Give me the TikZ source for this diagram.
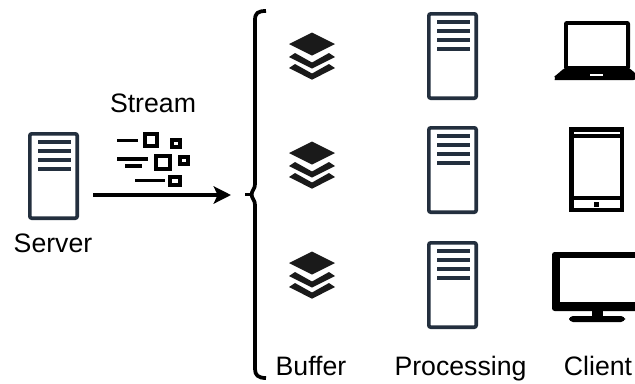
\documentclass[tikz,border=0pt]{standalone}
\usepackage{fontspec}
\setmainfont{Liberation Sans}
\usetikzlibrary{arrows.meta}
\definecolor{navy}{HTML}{232F3E}
\definecolor{stack}{HTML}{1A1A1A}
\tikzset{
  label text/.style={anchor=base,inner sep=0pt,font=\fontsize{20}{24}\selectfont,text=black},
  towerbox/.style={draw=navy,line width=2.7pt,rounded corners=1.5pt,fill=white},
  towerline/.style={draw=navy,line width=2.6pt},
  streamline/.style={draw=black,line width=2.6pt},
  streamsq/.style={draw=black,line width=3pt,fill=white},
  devicefill/.style={fill=black,draw=none},
  holefill/.style={fill=white,draw=none}
}
\newcommand{\towericon}[2]{%
  \begin{scope}[shift={(#1,#2)}]
    \draw[towerbox] (1.8,1.8) rectangle (49.2,86.2);
    \foreach \yy in {10,19,28,37} \draw[towerline] (10,\yy) -- (43,\yy);
  \end{scope}}
\newcommand{\stackicon}[2]{%
  \begin{scope}[shift={(#1,#2)}]
    \fill[stack] (-23,11) -- (0,-0.5) -- (23,11) -- (0,22.5) -- cycle;
    \fill[stack] (-23,24) -- (-17,20) -- (0,29.5) -- (17,20) -- (23,24) -- (0,35.5) -- cycle;
    \fill[stack] (-23,35) -- (-17,31) -- (0,40.5) -- (17,31) -- (23,35) -- (0,46.7) -- cycle;
  \end{scope}}
\begin{document}
\begin{tikzpicture}[x=0.75pt,y=-0.75pt]
\useasboundingbox (0,0) rectangle (635,383);
\clip (0,0) rectangle (635,383);

% server
\towericon{28}{132}
\node[label text] (server) at (53,252) {Server};

% arrow
\coordinate (arrowstart) at (93,195);
\coordinate (arrowend) at (231,195);
\draw[line width=2.5pt,-{Stealth[length=13pt,width=13pt,inset=3pt]}] (arrowstart) -- (arrowend);
\node[label text] (stream) at (153,112) {Stream};

% stream glyph
\draw[streamline] (117,140.5) -- (138,140.5);
\draw[streamline] (117,159) -- (148,159);
\draw[streamline] (125,166) -- (142,166);
\draw[streamline] (135,180.5) -- (165,180.5);
\draw[streamsq] (145,134) rectangle (157,146);
\draw[streamsq] (172,140) rectangle (180,147);
\draw[streamsq] (156,156) rectangle (170,169);
\draw[streamsq] (180,157) rectangle (188,164);
\draw[streamsq] (170,177) rectangle (180,185);

% brace
\draw[line width=2.8pt] (266,11) .. controls (258,11) and (255,13) .. (255,20)
  -- (255,184) .. controls (255,189) and (252,190) .. (251.5,194.5)
  .. controls (252,199) and (255,200) .. (255,205)
  -- (255,369) .. controls (255,375) and (258,378) .. (266,378);
\draw[line width=2.8pt] (245,194.5) -- (252,194.5);

% buffers
\stackicon{312}{33}
\stackicon{312}{142}
\stackicon{312}{252}
\node[label text] (buffer) at (311,375) {Buffer};

% processing
\towericon{427}{12}
\towericon{427}{126}
\towericon{427}{241}
\node[label text] (processing) at (460.5,375) {Processing};

% laptop
\fill[devicefill,rounded corners=2pt] (564,21) rectangle (630,70);
\fill[holefill] (568,25) rectangle (626,66);
\fill[devicefill,rounded corners=2.5pt] (565,67.5) -- (629,67.5) -- (637,75) -- (637,80) -- (558,80) .. controls (555,80) and (555,76) .. (557,74.5) -- cycle;
\fill[holefill] (590,73.5) rectangle (603,76);

% tablet
\fill[devicefill] (569,127) rectangle (624,212);
\fill[holefill] (573.5,131.7) rectangle (620,134);
\fill[holefill] (573.5,138) rectangle (620,196);
\fill[holefill] (573.5,200) rectangle (620,208);
\fill[devicefill] (594.3,202) rectangle (599,206.7);

% monitor
\fill[devicefill,rounded corners=2pt] (552,252) rectangle (642,311);
\fill[holefill] (560,258) rectangle (636,302);
\fill[devicefill] (592,311) rectangle (603,318);
\fill[devicefill,rounded corners=3pt] (569,316) rectangle (625,322);
\node[label text] (client) at (598,375) {Client};
\end{tikzpicture}
\end{document}
